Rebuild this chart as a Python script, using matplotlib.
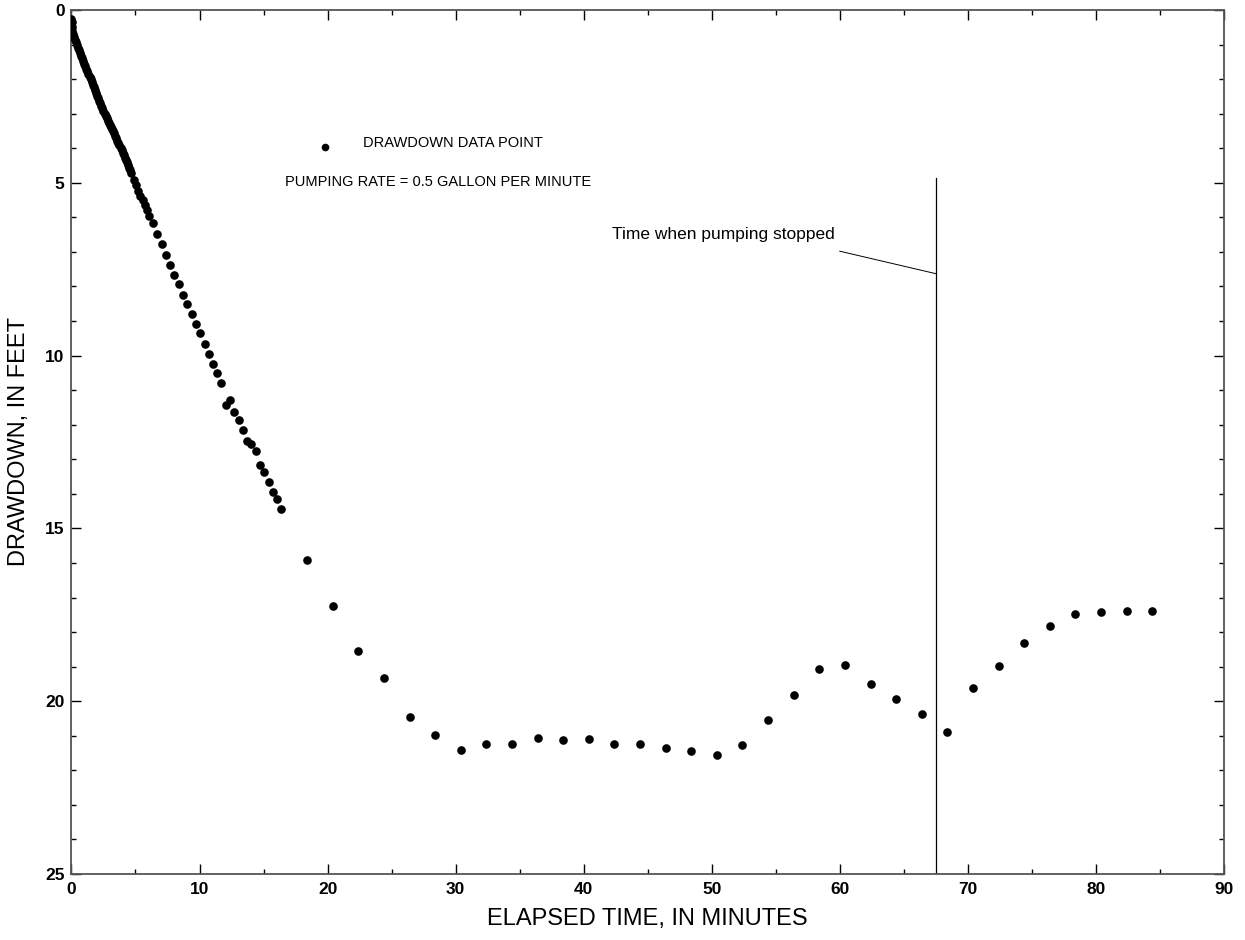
import matplotlib
matplotlib.use("Agg")
import matplotlib.pyplot as plt
from matplotlib.ticker import MultipleLocator

plt.rcParams['font.family'] = ['Liberation Sans', 'DejaVu Sans']

# Elapsed time (minutes) and drawdown (feet) -- early, densely sampled readings
time_early = [0.00, 0.02, 0.05, 0.08, 0.12, 0.17, 0.25, 0.33, 0.42, 0.50,
              0.58, 0.67, 0.75, 0.83, 0.92, 1.00, 1.08, 1.17, 1.25, 1.33,
              1.42, 1.50, 1.58, 1.67, 1.75, 1.83, 1.92, 2.00, 2.08, 2.17,
              2.25, 2.33, 2.42, 2.50, 2.58, 2.67, 2.75, 2.83, 2.92, 3.00,
              3.08, 3.17, 3.25, 3.33, 3.42, 3.50, 3.58, 3.67, 3.75, 3.83,
              3.92, 4.00, 4.08, 4.17, 4.25, 4.33, 4.42, 4.50, 4.58, 4.67,
              4.86, 5.04, 5.22, 5.38, 5.56, 5.74, 5.93, 6.08]
drawdown_early = [0.25, 0.35, 0.48, 0.60, 0.70, 0.78, 0.86, 0.94, 1.02, 1.10,
                  1.17, 1.25, 1.33, 1.40, 1.48, 1.55, 1.62, 1.70, 1.78, 1.85,
                  1.93, 2.00, 2.08, 2.16, 2.24, 2.32, 2.40, 2.48, 2.55, 2.63,
                  2.70, 2.77, 2.85, 2.93, 3.00, 3.07, 3.13, 3.20, 3.26, 3.33,
                  3.39, 3.45, 3.51, 3.57, 3.64, 3.71, 3.78, 3.85, 3.92, 3.99,
                  4.06, 4.13, 4.20, 4.27, 4.34, 4.41, 4.48, 4.56, 4.64, 4.72,
                  4.93, 5.07, 5.24, 5.38, 5.50, 5.63, 5.79, 5.96]

# 20-second readings
time_mid = [6.39, 6.71, 7.04, 7.37, 7.71, 8.04, 8.37, 8.71, 9.04, 9.39,
            9.73, 10.06, 10.39, 10.72, 11.05, 11.38, 11.71, 12.04, 12.38, 12.72,
            13.06, 13.40, 13.71, 14.05, 14.39, 14.73, 15.07, 15.40, 15.74, 16.05,
            16.39]
drawdown_mid = [6.16, 6.48, 6.78, 7.10, 7.37, 7.67, 7.94, 8.24, 8.52, 8.79,
                9.08, 9.36, 9.66, 9.95, 10.25, 10.49, 10.79, 11.44, 11.28, 11.62,
                11.87, 12.14, 12.48, 12.56, 12.76, 13.17, 13.37, 13.65, 13.95, 14.16,
                14.43]

# 2-minute readings, through pumping and recovery
time_late = [18.4, 20.4, 22.4, 24.4, 26.4, 28.4, 30.4, 32.4, 34.4, 36.4,
             38.4, 40.4, 42.4, 44.4, 46.4, 48.4, 50.4, 52.4, 54.4, 56.4,
             58.4, 60.4, 62.4, 64.4, 66.4, 68.4, 70.4, 72.4, 74.4, 76.4,
             78.4, 80.4, 82.4, 84.4]
drawdown_late = [15.92, 17.25, 18.56, 19.33, 20.45, 20.98, 21.41, 21.24, 21.25, 21.06,
                 21.11, 21.09, 21.23, 21.24, 21.35, 21.43, 21.56, 21.27, 20.53, 19.81,
                 19.08, 18.95, 19.49, 19.93, 20.38, 20.89, 19.61, 18.98, 18.33, 17.83,
                 17.49, 17.43, 17.39, 17.38]

pump_stop_time = 67.5
x_ticks = [0, 10, 20, 30, 40, 50, 60, 70, 80, 90]
y_ticks = [0, 5, 10, 15, 20, 25]

fig = plt.figure(figsize=(12.45, 9.4), dpi=100)
ax = fig.add_axes([0.0574, 0.0702, 0.9257, 0.9192])

times = time_early + time_mid + time_late
drawdowns = drawdown_early + drawdown_mid + drawdown_late
ax.plot(times, drawdowns, linestyle='none', marker='o', markersize=6.2,
        color='black', markeredgewidth=0, zorder=3)

ax.set_xlim(0, 90)
ax.set_ylim(25, 0)
ax.set_xticks(x_ticks)
ax.set_yticks(y_ticks)
ax.xaxis.set_minor_locator(MultipleLocator(5))
ax.yaxis.set_minor_locator(MultipleLocator(1))

ax.tick_params(which='both', direction='in', top=True, right=True,
               color='black', width=1.0)
ax.tick_params(which='major', length=7.5, labelsize=12.5)
ax.tick_params(axis='x', which='major', pad=6)
ax.tick_params(axis='y', which='major', pad=5)
ax.tick_params(which='minor', length=3.8)
for lab in ax.get_xticklabels() + ax.get_yticklabels():
    lab.set_fontweight('bold')

for sp in ax.spines.values():
    sp.set_color('#555555')
    sp.set_linewidth(1.3)

ax.set_xlabel('ELAPSED TIME, IN MINUTES', fontsize=17, labelpad=8)
ax.set_ylabel('DRAWDOWN, IN FEET', fontsize=17, labelpad=11)

# Explanation
ax.plot([19.8], [3.96], linestyle='none', marker='o', markersize=5.5,
        color='black', markeredgewidth=0)
ax.text(22.8, 3.85, 'DRAWDOWN DATA POINT', fontsize=10.5, va='center', ha='left')
ax.text(16.7, 4.98, 'PUMPING RATE = 0.5 GALLON PER MINUTE', fontsize=10.5,
        va='center', ha='left')

# Pumping stopped marker
ax.plot([pump_stop_time, pump_stop_time], [4.85, 25], color='black', linewidth=0.9)
ax.plot([60.0, pump_stop_time], [6.98, 7.63], color='black', linewidth=0.7)
ax.text(59.6, 6.5, 'Time when pumping stopped', fontsize=12.5, va='center', ha='right')

fig.savefig('out.png', dpi=100)
